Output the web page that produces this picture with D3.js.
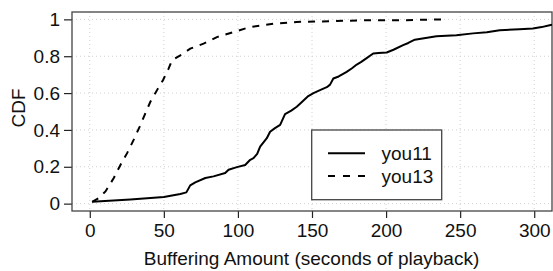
<!DOCTYPE html>
<html>
<head>
<meta charset="utf-8">
<script src="https://cdn.jsdelivr.net/npm/d3@7/dist/d3.min.js"></script>
<style>
  html, body { margin: 0; padding: 0; background: #fff; }
  svg { display: block; font-family: "Liberation Sans", Arial, Helvetica, sans-serif; }
</style>
</head>
<body>
<svg id="chart" width="553" height="271"></svg>
<script>
// ---- data ----
const xTicks = [0, 50, 100, 150, 200, 250, 300];
const yTicks = [0, 0.2, 0.4, 0.6, 0.8, 1];
const yTickLabels = ["0", "0.2", "0.4", "0.6", "0.8", "1"];
const seriesNames = ["you11", "you13"];

const you11X = [1.6, 27.4, 50, 61.1, 65.2, 67.8, 71.2, 78, 83.5, 91.4, 93.7, 99.3, 104.9, 108.3, 110.5, 113, 115, 119.5, 121.7, 125, 128.5, 131.8, 136, 139.7, 143, 147.5, 151, 155.4, 160, 162.2, 164.4, 168, 173.4, 177, 180.2, 183, 186.9, 191.3, 195, 200.4, 205, 211.5, 215, 219.4, 234, 247.5, 258.7, 268, 276.7, 290, 299.1, 305, 310.4, 315];
const you11Y = [0.01, 0.022, 0.036, 0.052, 0.061, 0.099, 0.115, 0.139, 0.148, 0.166, 0.184, 0.198, 0.21, 0.238, 0.247, 0.27, 0.31, 0.355, 0.39, 0.41, 0.427, 0.486, 0.505, 0.526, 0.55, 0.584, 0.6, 0.616, 0.632, 0.646, 0.679, 0.69, 0.715, 0.735, 0.755, 0.768, 0.79, 0.815, 0.818, 0.82, 0.835, 0.86, 0.872, 0.89, 0.908, 0.914, 0.924, 0.93, 0.941, 0.946, 0.95, 0.958, 0.968, 0.975];

const you13X = [1.6, 6, 10.6, 16.2, 20.7, 25.2, 29.6, 33.7, 37.5, 40.9, 45.4, 49.4, 53.2, 55.5, 61.1, 67.8, 76.8, 85.8, 97, 108, 124, 139.7, 162, 184.6, 209, 239];
const you13Y = [0.01, 0.03, 0.066, 0.139, 0.21, 0.274, 0.346, 0.418, 0.49, 0.553, 0.616, 0.67, 0.733, 0.778, 0.805, 0.841, 0.868, 0.904, 0.931, 0.958, 0.977, 0.986, 0.99, 0.995, 0.995, 1.0];

// ---- layout ----
const svg = d3.select("#chart");
const L = 72, R = 552, T = 12, B = 211;
const FS = 19;
const TXT = "#111";

const x = d3.scaleLinear().domain([-12, 312]).range([L, R]);
const y = d3.scaleLinear().domain([-0.04, 1.04]).range([B, T]);

svg.append("defs").append("clipPath").attr("id", "clip")
  .append("rect").attr("x", L).attr("y", T).attr("width", R - L).attr("height", B - T);

// grid
const grid = svg.append("g");
grid.selectAll("line.gx").data(xTicks).join("line")
  .attr("x1", d => x(d)).attr("x2", d => x(d)).attr("y1", T).attr("y2", B)
  .attr("stroke", "#d0d0d0").attr("stroke-width", 1).attr("stroke-dasharray", "1,3");
grid.selectAll("line.gy").data(yTicks).join("line")
  .attr("y1", d => y(d)).attr("y2", d => y(d)).attr("x1", L).attr("x2", R)
  .attr("stroke", "#d0d0d0").attr("stroke-width", 1).attr("stroke-dasharray", "1,3");

// axes
const xAxis = d3.axisBottom(x).tickValues(xTicks).tickSize(7).tickPadding(6).tickFormat(d3.format("d"));
const gx = svg.append("g").attr("transform", `translate(0,${B})`).call(xAxis);
gx.select(".domain").remove();
gx.selectAll(".tick line").attr("stroke", "#222").attr("stroke-width", 1.2);
gx.selectAll(".tick text").attr("font-size", FS).attr("fill", TXT).attr("font-family", "Liberation Sans, Arial, sans-serif");

const yAxis = d3.axisLeft(y).tickValues(yTicks).tickSize(8).tickPadding(4).tickFormat((d, i) => yTickLabels[i]);
const gy = svg.append("g").attr("transform", `translate(${L},0)`).call(yAxis);
gy.select(".domain").remove();
gy.selectAll(".tick line").attr("stroke", "#222").attr("stroke-width", 1.2);
gy.selectAll(".tick text").attr("font-size", FS).attr("fill", TXT).attr("font-family", "Liberation Sans, Arial, sans-serif");

// frame
svg.append("rect").attr("x", L).attr("y", T).attr("width", R - L).attr("height", B - T)
  .attr("fill", "none").attr("stroke", "#444").attr("stroke-width", 1.3);

// lines
const line = d3.line().x(d => x(d[0])).y(d => y(d[1]));
const plot = svg.append("g").attr("clip-path", "url(#clip)");
plot.append("path").datum(d3.zip(you11X, you11Y)).attr("d", line)
  .attr("fill", "none").attr("stroke", "#000").attr("stroke-width", 2).attr("stroke-linejoin", "round");
plot.append("path").datum(d3.zip(you13X, you13Y)).attr("d", line)
  .attr("fill", "none").attr("stroke", "#000").attr("stroke-width", 2).attr("stroke-dasharray", "7,7");

// legend
const lg = svg.append("g");
lg.append("rect").attr("x", 311.7).attr("y", 130).attr("width", 130).attr("height", 69.7)
  .attr("fill", "#fff").attr("stroke", "#444").attr("stroke-width", 1.3);
const dashes = [null, "7,8"];
seriesNames.forEach((n, i) => {
  const yy = 153.3 + i * 22.7;
  lg.append("line").attr("x1", 328).attr("x2", 365).attr("y1", yy).attr("y2", yy)
    .attr("stroke", "#000").attr("stroke-width", 2).attr("stroke-dasharray", dashes[i]);
  lg.append("text").attr("x", 381.5).attr("y", yy).attr("dy", "0.35em")
    .attr("font-size", FS).attr("fill", TXT).text(n);
});

// axis titles
svg.append("text").attr("x", 311.5).attr("y", 265).attr("text-anchor", "middle")
  .attr("font-size", FS).attr("fill", TXT).text("Buffering Amount (seconds of playback)");
svg.append("text").attr("transform", "translate(25,108) rotate(-90)").attr("text-anchor", "middle")
  .attr("font-size", FS).attr("fill", TXT).text("CDF");
</script>
</body>
</html>
